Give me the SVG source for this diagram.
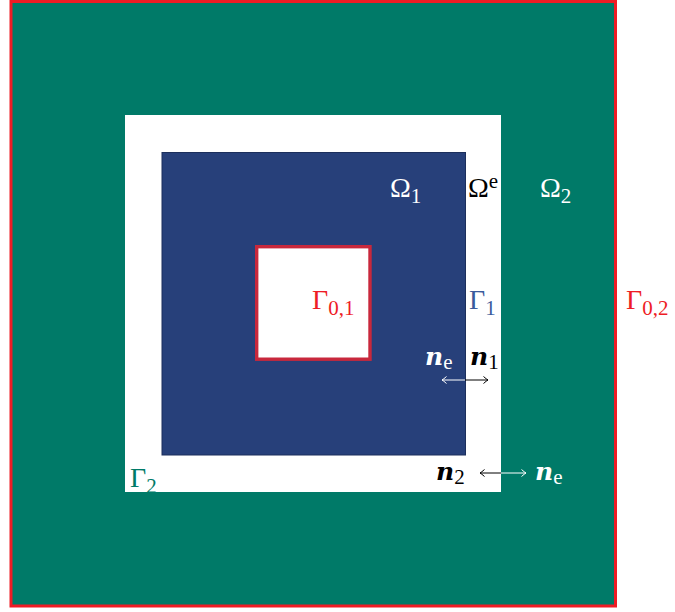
<svg xmlns="http://www.w3.org/2000/svg" width="675" height="612" viewBox="0 0 675 612">
<defs>
<style>
.t{font-family:"Liberation Serif","DejaVu Serif",serif;font-size:28px}
.s{font-size:21px}
.b{font-family:"DejaVu Serif",serif;font-size:25px;font-weight:bold;font-style:italic}
.w{fill:#ffffff}
.k{fill:#000000}
.r{fill:#ee1c25}
</style>
<marker id="hw" viewBox="-6 -5 8 10" markerWidth="8" markerHeight="10" refX="0" refY="0" orient="auto-start-reverse" markerUnits="userSpaceOnUse">
<path d="M -4.5 -3.5 Q -1.5 -0.8 0 0 Q -1.5 0.8 -4.5 3.5" fill="none" stroke="#ffffff" stroke-width="1"/>
</marker>
<marker id="hk" viewBox="-6 -5 8 10" markerWidth="8" markerHeight="10" refX="0" refY="0" orient="auto-start-reverse" markerUnits="userSpaceOnUse">
<path d="M -4.5 -3.5 Q -1.5 -0.8 0 0 Q -1.5 0.8 -4.5 3.5" fill="none" stroke="#000000" stroke-width="1"/>
</marker>
</defs>
<rect width="675" height="612" fill="#ffffff"/>
<g id="omega2">
<rect x="11" y="1.5" width="604.5" height="604.5" fill="#007a68" stroke="#ee1c25" stroke-width="3"/>
</g>
<g id="omega-e">
<rect x="125" y="115" width="376" height="377" fill="#ffffff"/>
</g>
<g id="omega1">
<rect x="162" y="152.5" width="303.5" height="302.5" fill="#27407a" stroke="#1c2f5c" stroke-width="1"/>
</g>
<g id="hole">
<rect x="256.7" y="246.7" width="113.3" height="112.5" fill="#ffffff" stroke="#c8283c" stroke-width="3.4"/>
</g>
<g id="connectors">
<line x1="465" y1="380" x2="442" y2="380" stroke="#ffffff" stroke-width="1" marker-end="url(#hw)"/>
<line x1="465" y1="380" x2="488" y2="380" stroke="#000000" stroke-width="1" marker-end="url(#hk)"/>
<line x1="501" y1="473" x2="480" y2="473" stroke="#000000" stroke-width="1" marker-end="url(#hk)"/>
<line x1="501" y1="473" x2="526" y2="473" stroke="#ffffff" stroke-width="1" marker-end="url(#hw)"/>
</g>
<g id="labels">
<text class="t w" x="390" y="197">Ω<tspan class="s" dy="6">1</tspan></text>
<text class="t k" x="468" y="197">Ω<tspan class="s" dy="-9">e</tspan></text>
<text class="t w" x="540" y="197">Ω<tspan class="s" dy="6">2</tspan></text>
<text class="t r" x="312" y="309">Γ<tspan class="s" dy="6">0,1</tspan></text>
<text class="t" fill="#3a5a9c" x="469" y="309">Γ<tspan class="s" dy="6">1</tspan></text>
<text class="t r" x="626" y="309">Γ<tspan class="s" dy="6">0,2</tspan></text>
<text class="t" fill="#007a68" x="130" y="487">Γ<tspan class="s" dy="6">2</tspan></text>
<text class="t w" x="425" y="365"><tspan class="b">n</tspan><tspan class="s" dy="4">e</tspan></text>
<text class="t k" x="470" y="365"><tspan class="b">n</tspan><tspan class="s" dy="4">1</tspan></text>
<text class="t k" x="436" y="480"><tspan class="b">n</tspan><tspan class="s" dy="4">2</tspan></text>
<text class="t w" x="535" y="480"><tspan class="b">n</tspan><tspan class="s" dy="4">e</tspan></text>
</g>
</svg>
